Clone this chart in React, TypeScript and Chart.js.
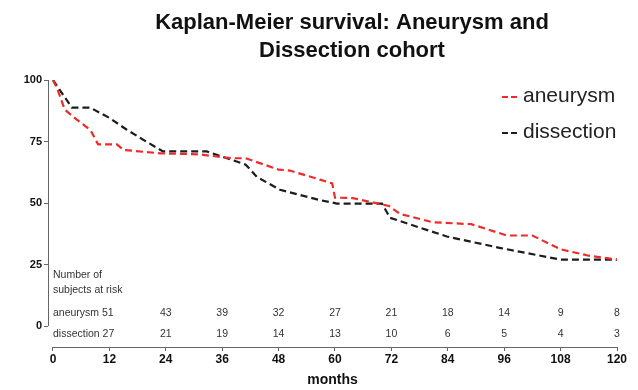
import React, { useEffect, useRef } from "react";
import { Chart, registerables } from "chart.js";

Chart.register(...registerables);

const FONT = "'Liberation Sans', Arial, Helvetica, sans-serif";

const titleLines = ["Kaplan-Meier survival: Aneurysm and", "Dissection cohort"];
const xAxisTitle = "months";
const xTicks = [0, 12, 24, 36, 48, 60, 72, 84, 96, 108, 120];
const yTicks = [0, 25, 50, 75, 100];

const seriesNames = ["aneurysm", "dissection"];

const aneurysmMonths = [0, 1, 2.5, 5, 8, 9.6, 13.6, 15, 22.8, 31, 38, 41, 48, 50.4, 57, 59.4, 60, 63.8, 71.5, 73.8, 80.8, 89, 96.6, 102, 108, 114, 120];
const aneurysmSurvival = [100, 96, 88, 84, 79.6, 73.8, 73.8, 71.6, 70.2, 69.8, 68.2, 68.2, 63.6, 63.2, 59.4, 58, 52.2, 52, 48.8, 45.6, 42.2, 41.4, 36.8, 36.8, 31.2, 28.6, 27];

const dissectionMonths = [0, 1.9, 4, 7.9, 12, 15.7, 20, 23.4, 32.7, 41, 43.4, 48.3, 56.8, 60.4, 70, 71.7, 83.8, 95, 108, 120];
const dissectionSurvival = [100, 94.7, 88.8, 88.8, 84.6, 79.8, 74.8, 71, 71, 65.6, 60.6, 55.4, 51.2, 49.8, 49.8, 44, 36.4, 31.8, 27, 27];

const riskHeader = ["Number of", "subjects at risk"];
const riskMonths = [24, 36, 48, 60, 72, 84, 96, 108, 120];
const aneurysmStartRisk = 51;
const dissectionStartRisk = 27;
const aneurysmAtRisk = [43, 39, 32, 27, 21, 18, 14, 9, 8];
const dissectionAtRisk = [21, 19, 14, 13, 10, 6, 5, 4, 3];

const RED = "#ee2a2a";
const BLACK = "#1c1c1c";

const overlayPlugin = {
  id: "kmOverlay",
  beforeDatasetsDraw(chart: any) {
    const { ctx, chartArea } = chart;
    const xs = chart.scales.x;
    const ys = chart.scales.y;
    ctx.save();
    ctx.strokeStyle = "#666";
    ctx.lineWidth = 1;
    ctx.beginPath();
    ctx.moveTo(chartArea.left + 0.5, ys.getPixelForValue(100));
    ctx.lineTo(chartArea.left + 0.5, ys.getPixelForValue(0));
    ctx.stroke();
    ctx.beginPath();
    ctx.moveTo(xs.getPixelForValue(0), chartArea.bottom + 0.5);
    ctx.lineTo(xs.getPixelForValue(120), chartArea.bottom + 0.5);
    ctx.stroke();
    ctx.restore();
  },
  afterDraw(chart: any) {
    const { ctx } = chart;
    const xs = chart.scales.x;
    const ys = chart.scales.y;
    ctx.save();
    // title
    ctx.fillStyle = "#111";
    ctx.textAlign = "center";
    ctx.textBaseline = "middle";
    ctx.font = `bold 22px ${FONT}`;
    ctx.fillText(titleLines[0], 352, 23);
    ctx.fillText(titleLines[1], 352, 51);

    // legend
    const legendColors = [RED, BLACK];
    const legendY = [96, 132];
    seriesNames.forEach((name, i) => {
      ctx.strokeStyle = legendColors[i];
      ctx.lineWidth = 2;
      ctx.setLineDash([6, 3]);
      ctx.beginPath();
      ctx.moveTo(502, legendY[i] + 1);
      ctx.lineTo(518, legendY[i] + 1);
      ctx.stroke();
      ctx.setLineDash([]);
      ctx.fillStyle = "#222";
      ctx.textAlign = "left";
      ctx.textBaseline = "middle";
      ctx.font = `21px ${FONT}`;
      ctx.fillText(name, 523, legendY[i]);
    });

    // number at risk table
    ctx.fillStyle = "#333";
    ctx.font = `10.5px ${FONT}`;
    ctx.textBaseline = "middle";
    ctx.textAlign = "left";
    const x0 = xs.getPixelForValue(0);
    ctx.fillText(riskHeader[0], x0, ys.getPixelForValue(20.6));
    ctx.fillText(riskHeader[1], x0, ys.getPixelForValue(14.6));
    const rowA = ys.getPixelForValue(5.3);
    const rowD = ys.getPixelForValue(-3.3);
    ctx.fillText(`${seriesNames[0]} ${aneurysmStartRisk}`, x0, rowA);
    ctx.fillText(`${seriesNames[1]} ${dissectionStartRisk}`, x0, rowD);
    ctx.textAlign = "center";
    riskMonths.forEach((m, i) => {
      const px = xs.getPixelForValue(m);
      ctx.fillText(String(aneurysmAtRisk[i]), px, rowA);
      ctx.fillText(String(dissectionAtRisk[i]), px, rowD);
    });
    ctx.restore();
  },
};

export default function App() {
  const ref = useRef<HTMLCanvasElement | null>(null);
  useEffect(() => {
    document.body.style.margin = "0";
    const canvas = ref.current;
    if (!canvas) return;
    const chart = new Chart(canvas, {
      type: "line",
      data: {
        datasets: [
          {
            label: seriesNames[0],
            data: aneurysmMonths.map((m, i) => ({ x: m, y: aneurysmSurvival[i] })),
            borderColor: RED,
            borderWidth: 2.2,
            borderDash: [7, 4],
            pointRadius: 0,
            fill: false,
            tension: 0,
          },
          {
            label: seriesNames[1],
            data: dissectionMonths.map((m, i) => ({ x: m, y: dissectionSurvival[i] })),
            borderColor: BLACK,
            borderWidth: 2.2,
            borderDash: [7, 4],
            pointRadius: 0,
            fill: false,
            tension: 0,
          },
        ],
      },
      options: {
        animation: false,
        responsive: false,
        devicePixelRatio: 1,
        layout: { padding: { top: 80, right: 21, left: 0, bottom: 0 } },
        plugins: {
          legend: { display: false },
          title: { display: false },
          tooltip: { enabled: false },
        },
        scales: {
          x: {
            type: "linear",
            min: -1.06,
            max: 120,
            afterBuildTicks: (s: any) => {
              s.ticks = xTicks.map((v) => ({ value: v }));
            },
            afterFit: (s: any) => {
              s.height = 43;
            },
            grid: { display: true, drawOnChartArea: false, drawTicks: true, tickLength: 4, color: "#666" },
            border: { display: false },
            ticks: {
              autoSkip: false,
              maxRotation: 0,
              padding: 1,
              color: "#111",
              font: { family: FONT, size: 12, weight: "bold" },
            },
            title: {
              display: true,
              text: xAxisTitle,
              color: "#111",
              font: { family: FONT, size: 14, weight: "bold" },
              padding: { top: 2, bottom: 1 },
            },
          },
          y: {
            type: "linear",
            min: -8.5,
            max: 100,
            afterBuildTicks: (s: any) => {
              s.ticks = yTicks.map((v) => ({ value: v }));
            },
            afterFit: (s: any) => {
              s.width = 48;
            },
            grid: { display: true, drawOnChartArea: false, drawTicks: true, tickLength: 4, color: "#666" },
            border: { display: false },
            ticks: {
              padding: 2,
              color: "#111",
              font: { family: FONT, size: 11, weight: "bold" },
            },
          },
        },
      },
      plugins: [overlayPlugin],
    } as any);
    return () => chart.destroy();
  }, []);
  return <canvas ref={ref} width={638} height={390} style={{ display: "block" }} />;
}
